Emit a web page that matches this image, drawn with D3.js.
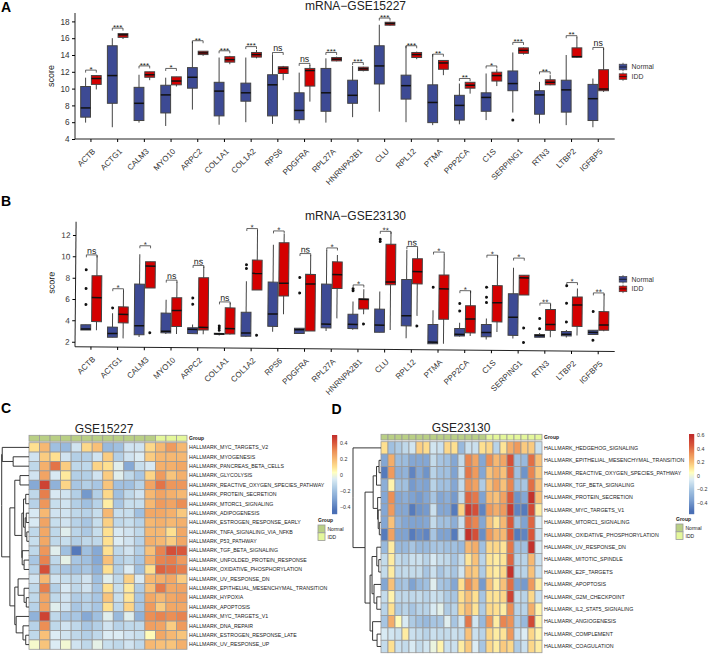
<!DOCTYPE html>
<html><head><meta charset="utf-8">
<style>html,body{margin:0;padding:0;background:#fff}svg{display:block}text{font-family:"Liberation Sans",Arial,sans-serif}</style>
<script src="https://cdn.jsdelivr.net/npm/d3@7"></script></head><body>
<svg id="c" width="708" height="654"></svg>
<script>
const genes=["ACTB","ACTG1","CALM3","MYO10","ARPC2","COL1A1","COL1A2","RPS6","PDGFRA","RPL27A","HNRNPA2B1","CLU","RPL12","PTMA","PPP2CA","C1S","SERPING1","RTN3","LTBP2","IGFBP5"];
// [low whisker, q1, median, q3, high whisker]
const normalA=[[5.95,6.6,7.7,10.25,11.3],[5.4,8.25,11.55,15.1,16],[5.95,6.2,8.25,10.15,11.65],[5.55,7.1,9.25,10.4,11.3],[7.5,10.05,11.35,12.5,15.6],[5.7,6.75,9.7,10.75,13.7],[6,8.5,9.5,10.65,13.7],[5.8,6.75,10.45,11.65,14],[5.85,6.3,7.4,9.5,11.9],[5.95,7.3,9.5,12.4,13.6],[6.6,8.25,9.2,11,12.7],[7.25,10.55,12.7,15.1,17.6],[6,8.75,10.35,11.6,15.1],[5.65,5.95,8.35,10.45,14.1],[5.75,6.25,8,9.2,10.6],[6.25,7.3,8.95,9.5,11.8],[7.15,9.75,10.6,12.1,14.3],[5.85,6.95,9.25,9.75,10.8],[5.65,7.2,9.85,11,14],[5.4,6.2,8.8,10.5,11.2]];
const iddA=[[9.9,10.5,11.2,11.55,11.6],[15.9,16.1,16.4,16.55,16.6],[11,11.35,11.65,12,12],[10.25,10.45,10.9,11.4,11.4],[13.9,14.05,14.25,14.45,14.45],[12.9,13.15,13.45,13.8,13.9],[13.6,13.75,14.05,14.3,14.6],[11,11.8,12.4,12.6,12.7],[8.45,10.3,12.15,12.4,12.8],[13.25,13.3,13.5,13.7,13.8],[12.05,12.15,12.35,12.55,12.6],[17.5,17.55,17.75,17.9,17.95],[13.5,13.7,14.05,14.3,14.4],[11.6,12.3,13.05,13.35,13.35],[9.4,10.05,10.4,10.75,10.8],[10.3,10.9,11.55,11.95,12.3],[14.05,14.2,14.55,14.85,14.9],[10.4,10.45,10.75,11.05,11.6],[13.7,13.75,13.8,14.85,16.1],[9.6,9.75,9.95,12.25,14.8]];
const bracketA=[12.2,17.2,12.7,12.4,15.7,14.5,15,14.3,13,14.3,13.1,18.4,15.1,14.1,11.2,12.7,15.5,12,16.3,14.9];
const sigA=["*","***","***","*","**","***","***","ns","ns","***","***","***","***","**","**","*","***","**","**","ns"];
const outliersA=[[16,0,6.25]];
const normalB=[[3.1,3.1,3.2,3.6,3.6],[2.45,2.45,2.8,3.4,4.7],[2.5,2.7,3.55,7.45,10.25],[2.8,2.9,3.05,4.75,6],[2.85,2.85,3.25,3.4,3.7],[2.7,2.8,2.85,2.9,2.95],[2.6,2.65,2.95,4.9,7.8],[3.1,3.6,4.75,7.75,11.25],[2.95,2.95,3.3,3.45,3.45],[3.2,3.5,3.85,7.6,10.8],[3.35,3.45,3.85,4.8,6],[3.13,3.13,3.8,5.3,6.95],[2.6,3.75,4.7,8.1,10.9],[2.1,2.1,2.25,3.9,5.25],[2.8,2.85,3,3.55,4.1],[2.55,2.8,3.2,3.95,4.5],[2.65,2.95,4.65,6.85,9.3],[2.8,2.8,2.95,3.05,3.2],[2.8,2.95,3.1,3.35,3.5],[3.1,3.1,3.3,3.5,3.5]];
const iddB=[[3.1,3.9,6.15,8.2,10.1],[2.35,3.8,4.6,5.3,6.85],[7.1,7.1,9.15,9.55,9.55],[2.8,3.5,5,6.2,7.7],[2.8,3.2,3.45,8.1,9.15],[2.8,2.85,3.35,5.3,5.75],[7,7,8.55,9.8,12.6],[4.75,6.45,7.65,11.45,12.3],[3.2,3.2,7.6,8.5,10.3],[4.4,7.2,8.5,9.7,10.35],[4.8,5.3,6.2,6.25,7.15],[3.35,7.6,7.85,11.4,12.55],[4.7,7.7,8.85,10.05,11],[2.1,4.4,7.25,8.55,10.5],[2.85,3.15,4.45,5.7,7.1],[3.25,4.2,6,7.6,10.45],[6.75,6.75,8.35,8.6,8.6],[2.8,3.45,4,5.4,5.9],[3,3.85,5.85,6.6,7.4],[3.4,3.5,4,5.25,6.9]];
const bracketB=[10.15,7,11.05,7.85,9.25,5.85,12.75,12.55,10.45,11,7.55,12.6,11.2,10.7,7.1,10.45,10.2,6,7.95,7];
const sigB=["ns","*","*","ns","ns","ns","*","*","ns","*","*","**","ns","*","*","*","*","**","*","**"];
// [gene index, 0 normal / 1 IDD, value]
const outliersB=[[0,0,5.5],[0,0,7],[0,0,8.75],[1,0,5.2],[2,1,2.9],[4,0,6.2],[4,0,5.6],[5,0,3.6],[5,0,3.4],[5,0,3.2],[6,0,9.35],[6,0,9],[6,1,2.75],[8,0,8.2],[8,0,6.75],[10,0,7.2],[10,0,7],[10,1,3.9],[11,0,11.65],[11,0,11.85],[12,1,3.75],[13,0,7.4],[14,0,5.9],[14,0,5.2],[15,0,7.45],[15,0,6.5],[15,0,6],[16,1,3.65],[16,1,2.3],[17,0,4.55],[17,0,3.6],[18,0,7.65],[18,0,6],[18,0,4.25],[19,0,5.25],[19,0,2.55]];
const ticksA=[4,6,8,10,12,14,16,18];
const ticksB=[2,4,6,8,10,12];

const rowsC=["HALLMARK_MYC_TARGETS_V2","HALLMARK_MYOGENESIS","HALLMARK_PANCREAS_BETA_CELLS","HALLMARK_GLYCOLYSIS","HALLMARK_REACTIVE_OXYGEN_SPECIES_PATHWAY","HALLMARK_PROTEIN_SECRETION","HALLMARK_MTORC1_SIGNALING","HALLMARK_ADIPOGENESIS","HALLMARK_ESTROGEN_RESPONSE_EARLY","HALLMARK_TNFA_SIGNALING_VIA_NFKB","HALLMARK_P53_PATHWAY","HALLMARK_TGF_BETA_SIGNALING","HALLMARK_UNFOLDED_PROTEIN_RESPONSE","HALLMARK_OXIDATIVE_PHOSPHORYLATION","HALLMARK_UV_RESPONSE_DN","HALLMARK_EPITHELIAL_MESENCHYMAL_TRANSITION","HALLMARK_HYPOXIA","HALLMARK_APOPTOSIS","HALLMARK_MYC_TARGETS_V1","HALLMARK_DNA_REPAIR","HALLMARK_ESTROGEN_RESPONSE_LATE","HALLMARK_UV_RESPONSE_UP"];
const groupC=[0,0,0,0,0,0,0,0,0,0,0,0,1,1,1];
const heatC=[
[.1,.2,-.2,-.22,-.08,.12,.18,-.22,-.2,-.08,-.08,.12,.2,.27,.2],
[-.08,.15,.1,-.08,-.15,-.15,-.08,.15,-.15,-.08,-.05,.15,.2,.2,.2],
[-.12,.22,.35,.15,-.12,-.12,.13,.1,-.04,-.28,-.1,-.06,.22,.22,.24],
[-.08,.25,-.06,.08,-.15,-.15,-.08,.15,-.04,-.12,-.18,.13,.27,.17,.22],
[-.28,.45,-.25,.13,-.18,-.15,-.18,.17,-.2,-.2,-.14,.25,.35,.28,.28],
[-.12,.33,-.06,-.08,-.15,-.33,-.15,.12,-.2,-.12,-.08,.2,.25,.22,.2],
[-.14,.28,-.1,-.08,-.15,-.2,-.14,.07,-.18,-.1,-.1,.2,.27,.25,.3],
[-.06,.2,-.08,-.08,-.12,-.14,-.1,.2,-.1,-.1,-.2,.24,.24,.22,.16],
[-.06,.25,-.1,-.08,-.14,-.18,-.1,.14,-.12,-.1,-.14,.2,.22,.2,.22],
[-.12,.24,-.12,-.04,-.13,-.17,-.1,.1,-.06,-.08,-.12,.2,.2,.1,.24],
[-.1,.24,-.12,-.1,-.15,-.12,-.12,.1,-.05,-.08,-.14,.22,.2,.15,.24],
[-.12,.28,-.04,-.2,-.42,-.2,-.28,.1,-.12,-.08,-.15,.18,.32,.42,.4],
[-.18,.32,-.12,-.03,-.18,-.2,-.28,.18,-.15,-.12,-.18,.22,.32,.33,.27],
[-.14,.42,-.15,-.18,-.2,-.18,-.25,.1,-.15,-.05,-.2,.1,.38,.36,.33],
[-.08,.2,-.08,-.1,-.12,-.08,-.2,-.04,-.12,.14,-.06,.2,.22,.24,.15],
[-.12,.33,-.15,-.06,-.12,-.08,-.18,.1,-.1,.08,-.16,.18,.34,.24,.25],
[-.12,.25,-.12,-.08,-.16,-.14,-.18,.17,-.1,.09,-.18,.24,.2,.24,.26],
[-.14,.25,-.04,-.08,-.18,-.14,-.18,.1,-.12,.13,-.18,.27,.15,.24,.24],
[-.25,.45,-.12,-.18,-.18,-.28,-.2,-.04,-.22,-.04,-.25,.3,.32,.3,.32],
[-.14,.3,-.12,-.08,-.12,-.18,-.15,-.08,-.14,-.12,-.12,.26,.25,.15,.27],
[-.12,.18,-.05,-.08,-.12,-.15,-.12,-.05,-.05,-.08,-.1,.04,.24,.2,.17],
[.01,.17,-.05,0,-.08,-.12,-.03,-.1,-.12,-.08,-.12,.2,.18,.17,.22]];
const treeC={h:1,c:[{h:.98,c:[0,{h:.58,c:[1,2]}]},{h:.7,c:[
 {h:.52,c:[{h:.33,c:[3,4]},{h:.26,c:[{h:.2,c:[{h:.12,c:[5,6]},{h:.14,c:[{h:.1,c:[7,8]},{h:.08,c:[9,10]}]}]},{h:.25,c:[11,{h:.18,c:[12,13]}]}]}]},
 {h:.52,c:[{h:.4,c:[14,{h:.18,c:[15,{h:.1,c:[16,17]}]}]},{h:.47,c:[18,{h:.22,c:[19,{h:.12,c:[20,21]}]}]}]}]}]};

const rowsD=["HALLMARK_HEDGEHOG_SIGNALING","HALLMARK_EPITHELIAL_MESENCHYMAL_TRANSITION","HALLMARK_REACTIVE_OXYGEN_SPECIES_PATHWAY","HALLMARK_TGF_BETA_SIGNALING","HALLMARK_PROTEIN_SECRETION","HALLMARK_MYC_TARGETS_V1","HALLMARK_MTORC1_SIGNALING","HALLMARK_OXIDATIVE_PHOSPHORYLATION","HALLMARK_UV_RESPONSE_DN","HALLMARK_MITOTIC_SPINDLE","HALLMARK_E2F_TARGETS","HALLMARK_APOPTOSIS","HALLMARK_G2M_CHECKPOINT","HALLMARK_IL2_STAT5_SIGNALING","HALLMARK_ANGIOGENESIS","HALLMARK_COMPLEMENT","HALLMARK_COAGULATION"];
const groupD=[0,0,0,0,0,0,0,0,0,0,0,0,0,0,0,1,1,1,1,1,1,1,1];
const heatD=[
[.13,-.22,-.18,-.13,-.08,.17,.14,-.08,-.1,.15,.13,-.25,-.1,-.1,.13,.15,-.15,.12,.25,.3,.18,.18,-.1],
[-.33,.25,-.24,-.24,-.33,-.33,-.33,-.12,-.2,-.22,-.33,-.12,.35,.27,-.33,.33,.22,.27,.48,-.22,-.25,.4,.2],
[-.48,.3,-.3,-.28,-.45,-.33,-.4,-.15,-.22,-.22,-.35,-.1,.38,.3,-.33,.2,.25,.2,.42,-.22,-.4,.35,.18],
[-.3,.08,-.22,-.22,-.38,-.33,-.35,-.15,-.22,-.22,-.33,-.12,.32,.28,-.18,.2,.28,.2,.35,-.22,-.2,.4,.2],
[-.33,.33,-.33,-.3,-.35,-.38,-.33,-.2,-.33,-.3,-.38,-.12,.42,.38,-.35,.22,.2,.28,.45,-.4,-.33,.58,.2],
[-.33,.3,-.33,-.33,-.48,-.4,-.38,-.1,-.33,-.33,-.48,.16,.55,.48,-.45,.3,.25,.3,.55,-.45,-.48,.5,.1],
[-.33,.2,-.28,-.33,-.35,-.35,-.33,-.12,-.22,-.22,-.3,-.1,.4,.35,-.33,.2,.12,.22,.45,-.22,-.35,.42,-.05],
[-.48,.28,-.35,-.35,-.48,-.42,-.45,-.2,-.35,-.35,-.48,-.1,.58,.48,-.42,.3,.22,.22,.45,-.48,-.45,.45,-.1],
[-.25,.1,-.25,-.25,-.2,-.25,-.25,-.2,-.2,-.22,-.22,-.25,.22,.25,-.22,.15,.15,.12,.38,-.22,-.22,.58,-.05],
[-.12,.1,-.12,-.15,-.1,-.1,-.15,-.06,-.12,-.13,-.2,-.12,.12,.2,-.15,.12,.1,.12,.42,-.15,-.15,.22,-.1],
[-.12,.1,-.13,-.12,-.12,-.12,-.2,-.1,-.2,-.15,-.2,-.08,.2,.18,-.18,.13,.1,.15,.58,-.15,-.15,.2,-.1],
[-.33,.2,-.22,-.2,-.35,-.25,-.22,-.04,-.2,-.22,-.33,.13,.33,.22,-.38,.2,.1,.2,.4,-.35,-.38,.3,.1],
[-.12,.08,-.13,-.13,-.13,-.12,-.15,-.1,-.12,-.18,-.2,.13,.2,.13,-.2,.13,.12,.15,.52,-.12,-.15,.15,-.1],
[-.15,.13,-.18,-.15,-.2,-.15,-.15,-.06,-.03,-.18,-.15,.15,.22,.12,-.18,.15,.13,.1,.33,-.15,-.15,.25,.08],
[-.2,.25,.06,-.06,-.18,-.22,-.25,-.2,-.2,-.04,-.2,-.08,.38,-.08,-.25,.3,.1,.35,.32,-.18,-.25,.5,.08],
[-.06,-.08,-.1,.1,-.1,-.12,-.15,-.1,-.12,-.12,-.1,-.12,.2,-.1,-.15,.15,.1,.12,.3,-.1,-.05,.15,.08],
[-.12,.13,-.1,-.12,-.06,-.12,-.08,-.01,.08,-.1,-.1,.1,.18,-.05,-.2,.15,.1,.18,.15,-.18,-.1,.15,.1]];
const treeD={h:1,c:[0,{h:.57,c:[
 {h:.28,c:[{h:.16,c:[{h:.07,c:[1,2]},3]},{h:.12,c:[4,{h:.1,c:[5,{h:.06,c:[6,7]}]}]}]},
 {h:.39,c:[{h:.32,c:[{h:.15,c:[8,{h:.08,c:[9,10]}]},{h:.25,c:[11,{h:.15,c:[12,13]}]}]},{h:.3,c:[14,{h:.14,c:[15,16]}]}]}]}]};

const paletteStops=["#4a6fb5","#7fa3d2","#a0c0e0","#bfd8ea","#dcecf4","#ffffbf","#fee090","#f6b872","#ec8f55","#d9583b","#c12d2b"];
const colorDomainC=[-.45,-.3,-.2,-.12,-.05,.03,.1,.2,.3,.4,.5];
const colorDomainD=[-.52,-.35,-.22,-.13,-.05,.05,.13,.22,.33,.45,.6];
const colorTicksC=[.4,.2,0,-.2,-.4];
const colorTicksD=[.6,.4,.2,0,-.2,-.4];
const legendGroups=["Normal","IDD"];

const svg=d3.select("#c");
const boxColors=["#3d4a94","#d40000"];
const txt=(g,x,y,s,size,o={})=>g.append("text").attr("x",x).attr("y",y).attr("font-size",size).attr("fill",o.fill||"#222").attr("text-anchor",o.anchor||"start").attr("font-weight",o.bold?"bold":null).text(s);

function boxPanel(root,cfg){
  const g=root.append("g");
  if(cfg.rotate) g.attr("transform",cfg.rotate);
  const x=d3.scaleBand().domain(genes).range([77.6,611.6]);
  const y=d3.scaleLinear().domain(cfg.domain).range(cfg.yRange);
  const pos=(i,k)=>x(genes[i])+x.bandwidth()/2+(k?5.35:-5.35);
  const ya=g.append("g").attr("transform","translate(75,0)").call(d3.axisLeft(y).tickValues(cfg.ticks).tickSize(3).tickPadding(2.5).tickFormat(d3.format("d")));
  ya.selectAll("text").attr("font-size",8.2).attr("fill","#333").attr("font-family",'"Liberation Sans"');
  ya.select(".domain").attr("stroke","#222").attr("d",`M0,${cfg.yRange[1]}V${cfg.yRange[0]}`);
  const xAxis=d3.axisBottom(x).tickSize(3).tickSizeOuter(0).tickFormat(d=>d);
  const xa=g.append("g").attr("transform",`translate(0,${cfg.yRange[0]})`).call(xAxis);
  xa.select(".domain").attr("stroke","#222").attr("d","M75,0H614.7");
  xa.selectAll("text").attr("font-size",8).attr("fill","#333").attr("font-family",'"Liberation Sans"')
    .attr("text-anchor","end").attr("transform","translate(0,8) rotate(-45)").attr("dy","0.5em").attr("y",3);
  g.append("text").attr("transform",`translate(${cfg.labelX},${cfg.labelY}) rotate(-90)`).attr("text-anchor","middle").attr("font-size",9).attr("fill","#222").text("score");
  [cfg.normal,cfg.idd].forEach((set,k)=>{
    const b=g.append("g");
    set.forEach((d,i)=>{
      const cx=pos(i,k);
      b.append("line").attr("x1",cx).attr("x2",cx).attr("y1",y(d[0])).attr("y2",y(d[4])).attr("stroke","#444").attr("stroke-width",1);
      b.append("rect").attr("x",cx-4.9).attr("width",9.8).attr("y",y(d[3])).attr("height",Math.max(.5,y(d[1])-y(d[3]))).attr("fill",boxColors[k]).attr("stroke","#444").attr("stroke-width",1);
      b.append("line").attr("x1",cx-4.9).attr("x2",cx+4.9).attr("y1",y(d[2])).attr("y2",y(d[2])).attr("stroke","#111").attr("stroke-width",1.5);
    });
  });
  cfg.outliers.forEach(o=>g.append("circle").attr("cx",pos(o[0],o[1])).attr("cy",y(o[2])).attr("r",1.5).attr("fill","#111"));
  cfg.bracket.forEach((v,i)=>{
    const a=pos(i,0),b=pos(i,1),yy=y(v);
    g.append("path").attr("d",`M${a},${yy+2.5}V${yy}H${b}V${yy+2.5}`).attr("fill","none").attr("stroke","#222").attr("stroke-width",.7);
    const s=cfg.sig[i];
    g.append("text").attr("x",(a+b)/2).attr("y",s==="ns"?yy-1:yy+1.8).attr("text-anchor","middle").attr("font-size",s==="ns"?8.8:8).attr("fill","#222").text(s);
  });
}
boxPanel(svg,{domain:[4,19],yRange:[139,13],ticks:ticksA,normal:normalA,idd:iddA,bracket:bracketA,sig:sigA,outliers:outliersA,labelX:54,labelY:76});
boxPanel(svg,{domain:[1.53,13.25],yRange:[346.7,221.7],ticks:ticksB,normal:normalB,idd:iddB,bracket:bracketB,sig:sigB,outliers:outliersB,labelX:54,labelY:283,rotate:"rotate(0.5 75 346.7)"});
txt(svg,355.5,9.5,"mRNA−GSE15227",12,{anchor:"middle"});
txt(svg,355.5,220,"mRNA−GSE23130",12,{anchor:"middle"});

function boxLegend(yTop){
  const g=svg.append("g");
  legendGroups.forEach((n,k)=>{
    const yc=yTop+k*9.6;
    g.append("line").attr("x1",623).attr("x2",623).attr("y1",yc-4.2).attr("y2",yc+4.2).attr("stroke","#444").attr("stroke-width",.8);
    g.append("rect").attr("x",619.2).attr("y",yc-2.8).attr("width",7.6).attr("height",5.6).attr("fill",boxColors[k]).attr("stroke","#444").attr("stroke-width",.7);
    g.append("line").attr("x1",619.2).attr("x2",626.8).attr("y1",yc).attr("y2",yc).attr("stroke","#111").attr("stroke-width",.8);
    txt(g,631.6,yc+2.4,n,6.9,{fill:"#333"});
  });
}
boxLegend(67);
boxLegend(279.3);

txt(svg,1,12,"A",14,{bold:true,fill:"#000"});
txt(svg,1,206,"B",14,{bold:true,fill:"#000"});
txt(svg,1,413,"C",14,{bold:true,fill:"#000"});
txt(svg,331.5,414,"D",14,{bold:true,fill:"#000"});

const groupColors=["#b9cf85","#e4f79b"];
function heatPanel(cfg){
  const g=svg.append("g");
  const nc=cfg.group.length;
  const x=d3.scaleBand().domain(d3.range(nc)).range(cfg.xr);
  const y=d3.scaleBand().domain(d3.range(cfg.rows.length)).range(cfg.yr);
  const color=d3.scaleLinear().domain(cfg.cd).range(paletteStops).clamp(true);
  cfg.group.forEach((k,i)=>g.append("rect").attr("x",x(i)).attr("y",cfg.gy[0]).attr("width",x.bandwidth()).attr("height",cfg.gy[1]-cfg.gy[0]).attr("fill",groupColors[k]).attr("stroke","#9a9a9a").attr("stroke-width",.8));
  cfg.data.forEach((row,r)=>row.forEach((v,c)=>g.append("rect").attr("x",x(c)).attr("y",y(r)).attr("width",x.bandwidth()).attr("height",y.bandwidth()).attr("fill",color(v)).attr("stroke","#9a9a9a").attr("stroke-width",.8)));
  cfg.rows.forEach((n,r)=>txt(g,cfg.lx,y(r)+y.bandwidth()/2+1.8,n,cfg.fs,{fill:"#222"}));
  txt(g,cfg.lx,(cfg.gy[0]+cfg.gy[1])/2+1.8,"Group",5,{fill:"#222",bold:true});
  txt(g,cfg.title[0],cfg.title[1],cfg.title[2],12,{anchor:"middle"});
  // dendrogram
  const dx=d3.scaleLinear().domain([0,1]).range(cfg.tx);
  const rowY=i=>y(i)+y.bandwidth()/2;
  const walk=n=>{
    if(typeof n==="number") return {x:dx(0),y:rowY(n)};
    const kids=n.c.map(walk), nx=dx(n.h), ny=d3.mean(kids,k=>k.y);
    kids.forEach(k=>g.append("path").attr("d",`M${k.x},${k.y}H${nx}V${ny}`).attr("fill","none").attr("stroke","#222").attr("stroke-width",.9));
    return {x:nx,y:ny};
  };
  walk(cfg.tree);
  // colour bar
  const cb=d3.scaleLinear().domain(cfg.cbDomain).range(cfg.cbY);
  d3.range(cfg.cbY[0],cfg.cbY[1],1).forEach(py=>g.append("rect").attr("x",cfg.cbX).attr("y",py).attr("width",5.2).attr("height",1.2).attr("fill",color(cb.invert(py+.5))));
  cfg.cTicks.forEach(t=>txt(g,cfg.cbX+8,cb(t)+1.8,d3.format(".1f")(t).replace("-","−").replace(/^0\.0$/,"0"),5.3,{fill:"#333"}));
  // group legend
  txt(g,cfg.leg[0],cfg.leg[1],"Group",5,{fill:"#222",bold:true});
  legendGroups.forEach((n,k)=>{
    g.append("rect").attr("x",cfg.leg[0]).attr("y",cfg.leg[1]+3.5+k*7.8).attr("width",7).attr("height",7.8).attr("fill",groupColors[k]).attr("stroke","#9a9a9a").attr("stroke-width",.8);
    txt(g,cfg.leg[0]+9.5,cfg.leg[1]+9.2+k*7.8,n,5,{fill:"#222"});
  });
}
heatPanel({xr:[29,187],yr:[442.7,649.3],gy:[435.3,441.2],rows:rowsC,data:heatC,group:groupC,cd:colorDomainC,lx:189,fs:5.22,title:[104,432.5,"GSE15227"],tree:treeC,tx:[29,1.7],cbX:332,cbY:[435,514],cbDomain:[.5,-.49],cTicks:colorTicksC,leg:[318,521.5]});
heatPanel({xr:[381,542],yr:[441.7,652.7],gy:[434.3,440],rows:rowsD,data:heatD,group:groupD,cd:colorDomainD,lx:544,fs:5.3,title:[461,431.5,"GSE23130"],tree:treeD,tx:[381,353],cbX:689,cbY:[434,514],cbDomain:[.62,-.56],cTicks:colorTicksD,leg:[676,520.5]});
</script></body></html>
